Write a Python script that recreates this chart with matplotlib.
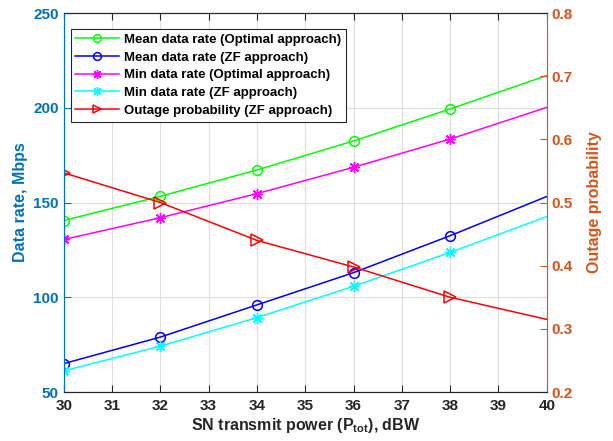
import numpy as np
import matplotlib.pyplot as plt

plt.rcParams['font.family'] = ['Liberation Sans', 'DejaVu Sans']
plt.rcParams['font.weight'] = 'bold'
plt.rcParams['axes.labelweight'] = 'bold'
plt.rcParams['mathtext.fontset'] = 'custom'
plt.rcParams['mathtext.bf'] = 'Liberation Sans:bold'
plt.rcParams['mathtext.rm'] = 'Liberation Sans:bold'
plt.rcParams['mathtext.default'] = 'bf'

# transmit power (dBW)
power = [30, 32, 34, 36, 38, 40]

# data rates, Mbps
mean_opt = [140.5, 153.3, 167.2, 182.5, 199.4, 217.0]
mean_zf = [65.0, 79.0, 96.0, 113.0, 132.5, 153.2]
min_opt = [130.5, 142.0, 154.7, 168.6, 183.5, 200.2]
min_zf = [61.2, 74.2, 89.3, 105.8, 123.7, 142.6]

# outage probability (ZF)
outage_zf = [0.547, 0.500, 0.440, 0.398, 0.350, 0.315]

labels = ["Mean data rate (Optimal approach)",
          "Mean data rate (ZF approach)",
          "Min data rate (Optimal approach)",
          "Min data rate (ZF approach)",
          "Outage probability (ZF approach)"]

blue_ax = "#0072BD"
orange_ax = "#D95319"
asterisk = (8, 2, 0)
marks = [0, 1, 2, 3, 4]

fig = plt.figure(figsize=(6.13, 4.41), dpi=100)
ax = fig.add_axes([0.104, 0.111, 0.788, 0.8595])
ax2 = ax.twinx()

h1, = ax.plot(power, mean_opt, color="#00FF00", lw=1.1, marker="o", ms=7,
              mfc="none", mew=1.1, markevery=marks, label=labels[0])
h2, = ax.plot(power, mean_zf, color="#0000FF", lw=1.1, marker="o", ms=7,
              mfc="none", mew=1.1, markevery=marks, label=labels[1])
h3, = ax.plot(power, min_opt, color="#FF00FF", lw=1.1, marker=asterisk, ms=8,
              mew=1.0, markevery=marks, label=labels[2])
h4, = ax.plot(power, min_zf, color="#00FFFF", lw=1.1, marker=asterisk, ms=8,
              mew=1.0, markevery=marks, label=labels[3])
h5, = ax2.plot(power, outage_zf, color="#FF0000", lw=1.1, marker=">", ms=8,
               mfc="none", mew=1.1, markevery=marks, label=labels[4])

ax.set_xlim(30, 40)
ax.set_ylim(50, 250)
ax2.set_ylim(0.2, 0.8)
ax.set_xticks(np.arange(30, 41, 1))
ax.set_yticks([50, 100, 150, 200, 250])
ax2.set_yticks([0.2, 0.3, 0.4, 0.5, 0.6, 0.7, 0.8])

ax.grid(True, color="#DFDFDF", lw=0.8)
ax.set_axisbelow(True)

ax.tick_params(axis="x", direction="in", top=True, length=5, colors="#262626",
               labelsize=11, pad=5)
ax.tick_params(axis="y", direction="in", length=5, colors=blue_ax, labelsize=11)
ax2.tick_params(axis="y", direction="in", length=5, colors=orange_ax, labelsize=11)

for s in ["top", "bottom"]:
    ax.spines[s].set_color("#262626")
    ax2.spines[s].set_color("#262626")
ax.spines["left"].set_color(blue_ax)
ax2.spines["left"].set_color(blue_ax)
ax2.spines["right"].set_color(orange_ax)
ax.spines["right"].set_visible(False)

ax.set_xlabel("SN transmit power (P$_{tot}$), dBW", fontsize=11.5, color="#262626",
              labelpad=2)
ax.set_ylabel("Data rate, Mbps", fontsize=11.5, color=blue_ax, labelpad=4)
ax2.set_ylabel("Outage probability", fontsize=11.5, color=orange_ax, labelpad=10)

leg = ax.legend(handles=[h1, h2, h3, h4, h5], loc="upper left",
                bbox_to_anchor=(0.0145, 0.958), fontsize=9.5, handlelength=3.3,
                handletextpad=0.4, labelspacing=0.42, borderpad=0.35,
                borderaxespad=0.0, markerscale=0.8,
                fancybox=False, framealpha=1, edgecolor="#262626")
leg.get_frame().set_linewidth(0.8)
for t in leg.get_texts():
    t.set_color("black")

fig.savefig("out.png", dpi=100)
